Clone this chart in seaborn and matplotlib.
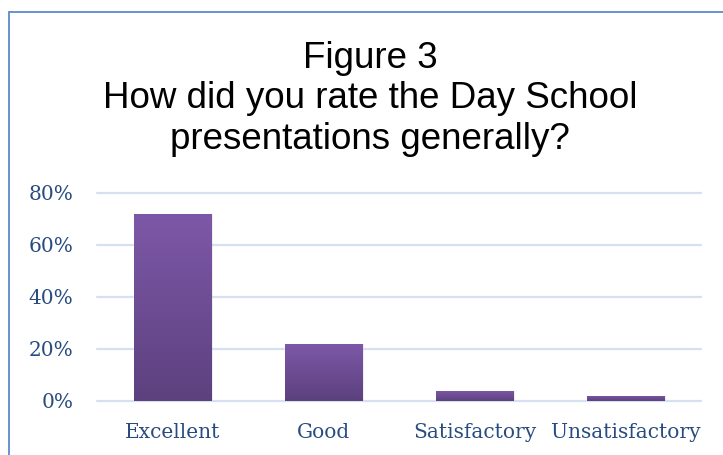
import numpy as np
import pandas as pd
import matplotlib
matplotlib.use("Agg")
import matplotlib.pyplot as plt
from matplotlib.patches import Rectangle
from matplotlib.colors import LinearSegmentedColormap
import seaborn as sns

# Data
categories = ["Excellent", "Good", "Satisfactory", "Unsatisfactory"]
shares = [0.72, 0.22, 0.04, 0.02]
yticks = [0.0, 0.2, 0.4, 0.6, 0.8]
ytick_labels = ["0%", "20%", "40%", "60%", "80%"]

title = "Figure 3\nHow did you rate the Day School\npresentations generally?"

sns.set_theme(style="white")
plt.rcParams["font.family"] = ["DejaVu Sans"]

W, H = 723, 455
fig = plt.figure(figsize=(W / 100, H / 100), dpi=100)
ax = fig.add_axes([97 / W, (H - 401) / H, (701 - 97) / W, (401 - 193) / H])

df = pd.DataFrame({"cat": categories, "share": shares})
sns.barplot(data=df, x="cat", y="share", ax=ax, color="#6E4E96", width=0.51,
            saturation=1, zorder=3)

# vertical purple gradient inside each bar
cmap = LinearSegmentedColormap.from_list("grad", ["#5C417E", "#7E58A8"])
grad = np.linspace(0, 1, 256).reshape(-1, 1)
for p in ax.patches:
    x0, y0 = p.get_x(), p.get_y()
    w, h = p.get_width(), p.get_height()
    im = ax.imshow(grad, cmap=cmap, aspect="auto", origin="lower",
                   extent=[x0, x0 + w, y0, y0 + h], zorder=4)
    im.set_clip_path(p)
    # soft shadow
    sh = Rectangle((x0 + 0.01, y0), w, h, facecolor="#000000", alpha=0.08,
                   edgecolor="none", zorder=2.5)
    ax.add_patch(sh)

ax.set_xlim(-0.5, len(categories) - 0.5)
ax.set_ylim(0, 0.8)
ax.set_yticks(yticks)
ax.set_yticklabels(ytick_labels)
ax.set_xlabel("")
ax.set_ylabel("")

for y in yticks:
    ax.axhline(y, color="#D5E1F1", lw=1.6, zorder=1, clip_on=False)

for s in ax.spines.values():
    s.set_visible(False)

tick_font = dict(family="DejaVu Serif", size=14.5, color="#284C80")
for lab in ax.get_xticklabels() + ax.get_yticklabels():
    lab.set_fontfamily(tick_font["family"])
    lab.set_fontsize(tick_font["size"])
    lab.set_color(tick_font["color"])
ax.tick_params(axis="y", length=0, pad=17)
ax.tick_params(axis="x", length=0, pad=16)

fig.text(370 / W, 1 - 99 / H, title, ha="center", va="center",
         fontsize=26.5, family="Liberation Sans", color="black", linespacing=1.2)

# chart frame (only left and top edges are visible in the crop)
fig.add_artist(Rectangle((8.5 / W, -0.1), 2, 1 - 11.5 / H + 0.1,
                         transform=fig.transFigure, fill=False,
                         edgecolor="#5A8ACB", lw=1.3))

fig.savefig("out.png", dpi=100)
